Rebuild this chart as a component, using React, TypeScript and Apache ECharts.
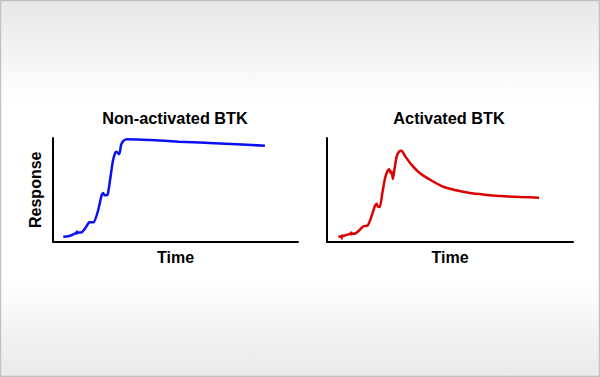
import React, { useEffect, useRef } from "react";
import * as echarts from "echarts";

// Non-activated BTK (blue)
const nonActTime = [4.2, 6.2, 7.8, 9.7, 11.7, 13.1, 14.8, 16.7, 18.5, 19.9, 20.5, 21.0, 22.3, 23.3, 24.4, 25.4, 26.0, 26.8, 27.1, 27.8, 28.7, 30.1, 39.6, 51.4, 68.2, 86.5];
const nonActResp = [4.5, 5.1, 6.3, 8.4, 8.9, 12.5, 18.6, 18.6, 30.8, 45.2, 46.8, 44.7, 45.2, 59.6, 77.2, 85.9, 86.8, 84.6, 84.6, 93.3, 97.1, 98.8, 98.1, 96.4, 94.7, 92.6];

// Activated BTK (red)
const actTime = [4.6, 6.0, 8.0, 9.8, 11.4, 12.7, 14.8, 16.5, 17.9, 19.5, 20.2, 20.6, 21.5, 22.5, 23.6, 24.7, 25.3, 25.9, 26.3, 26.8, 27.4, 28.3, 29.3, 30.4, 31.7, 34.4, 37.8, 42.6, 47.3, 52.4, 58.1, 64.2, 69.0, 78.5, 86.2];
const actResp = [4.5, 5.1, 6.4, 7.4, 7.7, 9.9, 14.7, 15.4, 22.8, 34.6, 36.5, 33.9, 33.4, 46.8, 61.3, 68.6, 69.9, 66.1, 67.3, 60.3, 69.2, 82.0, 86.8, 87.8, 82.7, 74.0, 65.9, 58.7, 52.9, 49.5, 46.8, 45.2, 44.2, 43.0, 42.3];

// small vertical marks on the traces: [time, low, high]
const nonActMarks = [[9.7, 6.7, 10.6]];
const actMarks = [[6.0, 1.9, 6.7], [9.8, 5.8, 9.6]];

const titles = ["Non-activated BTK", "Activated BTK"];
const xName = "Time";
const yName = "Response";

const BLUE = "#0a10f2";
const RED = "#dc0000";

function zip(a: number[], b: number[]) {
  return a.map((v, i) => [v, b[i]]);
}

export default function App() {
  const ref = useRef<HTMLDivElement>(null);
  useEffect(() => {
    if (!ref.current) return;
    const chart = echarts.init(ref.current, null, { renderer: "svg" });
    const font = "'Liberation Sans', Arial, sans-serif";
    const axisCommon = (name: string, isX: boolean) => ({
      type: "value",
      min: 0,
      max: 100,
      name,
      nameLocation: "middle",
      nameGap: isX ? 8 : 10,
      nameTextStyle: {
        fontFamily: font,
        fontSize: 16,
        fontWeight: "bold",
        color: "#000",
        verticalAlign: isX ? "top" : "bottom",
      },
      axisLine: { show: true, onZero: false, lineStyle: { color: "#000", width: 2 } },
      axisTick: { show: false },
      axisLabel: { show: false },
      splitLine: { show: false },
    });
    const markSeries = (marks: number[][], idx: number, color: string) =>
      marks.map((m) => ({
        type: "line",
        xAxisIndex: idx,
        yAxisIndex: idx,
        data: [[m[0], m[1]], [m[0], m[2]]],
        showSymbol: false,
        lineStyle: { color, width: 2 },
        silent: true,
      }));
    const titleStyle = { fontFamily: font, fontSize: 16.3, fontWeight: "bold", color: "#000" };
    chart.setOption({
      animation: false,
      backgroundColor: {
        type: "linear",
        x: 0,
        y: 0,
        x2: 0,
        y2: 1,
        colorStops: [
          { offset: 0, color: "#e7e7e7" },
          { offset: 0.27, color: "#ffffff" },
          { offset: 0.74, color: "#ffffff" },
          { offset: 1, color: "#e9e9e9" },
        ],
      },
      graphic: [
        {
          type: "rect",
          shape: { x: 0.5, y: 0.5, width: 599, height: 376 },
          style: { fill: "none", stroke: "#c2c2c2", lineWidth: 1.5 },
          silent: true,
        },
      ],
      title: [
        { text: titles[0], left: 175, top: 110, textAlign: "center", padding: 0, textStyle: titleStyle },
        { text: titles[1], left: 449, top: 110, textAlign: "center", padding: 0, textStyle: titleStyle },
      ],
      grid: [
        { left: 53, right: 302, top: 138, bottom: 135.5 },
        { left: 327, right: 27, top: 138, bottom: 135.5 },
      ],
      xAxis: [
        { ...axisCommon(xName, true), gridIndex: 0 },
        { ...axisCommon(xName, true), gridIndex: 1 },
      ],
      yAxis: [
        { ...axisCommon(yName, false), gridIndex: 0 },
        { ...axisCommon("", false), gridIndex: 1 },
      ],
      series: [
        {
          type: "line",
          xAxisIndex: 0,
          yAxisIndex: 0,
          data: zip(nonActTime, nonActResp),
          showSymbol: false,
          smooth: 0.15,
          lineStyle: { color: BLUE, width: 2.5 },
        },
        {
          type: "line",
          xAxisIndex: 1,
          yAxisIndex: 1,
          data: zip(actTime, actResp),
          showSymbol: false,
          smooth: 0.15,
          lineStyle: { color: RED, width: 2.5 },
        },
        ...markSeries(nonActMarks, 0, BLUE),
        ...markSeries(actMarks, 1, RED),
      ],
    });
    return () => chart.dispose();
  }, []);
  return (
    <div
      ref={ref}
      style={{ position: "absolute", left: 0, top: 0, width: 600, height: 377 }}
    />
  );
}
